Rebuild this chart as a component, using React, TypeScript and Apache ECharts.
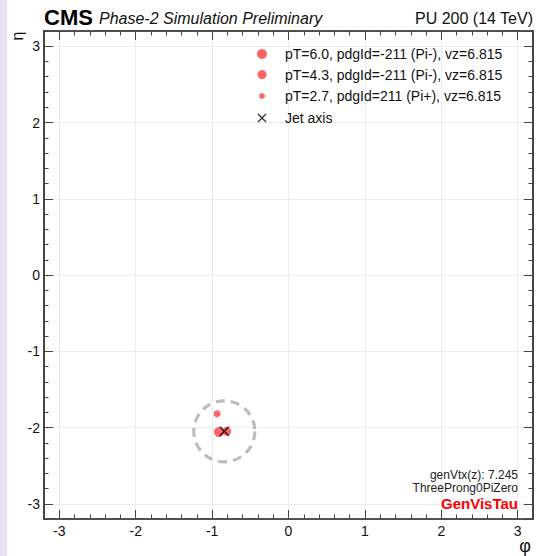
import React, { useEffect, useRef } from "react";
import * as echarts from "echarts";

// ---- data ----
const particleNames = [
  "pT=6.0, pdgId=-211 (Pi-), vz=6.815",
  "pT=4.3, pdgId=-211 (Pi-), vz=6.815",
  "pT=2.7, pdgId=211 (Pi+), vz=6.815",
];
const particlePhi = [-0.91, -0.81, -0.935];
const particleEta = [-2.06, -2.05, -1.82];
const particleSizes = [10, 9, 7];
const legendIconSizes = [10, 9, 6];
const jetAxisName = "Jet axis";
const jetAxisPhi = -0.84;
const jetAxisEta = -2.05;
const coneRadius = 0.4;
const axisMin = -3.2;
const axisMax = 3.2;
const infoLines = ["genVtx(z): 7.245", "ThreeProng0PiZero", "GenVisTau"];

const FONT = "'Liberation Sans', Arial, Helvetica, sans-serif";
const RED = "rgba(250,20,20,0.82)";
const CROSS =
  "path://M1,0L5,4L9,0L10,1L6,5L10,9L9,10L5,6L1,10L0,9L4,5L0,1Z";

export default function App() {
  const ref = useRef<HTMLDivElement>(null);
  useEffect(() => {
    if (!ref.current) return;
    const chart = echarts.init(ref.current, null, { renderer: "svg" });

    const frame = { show: true, onZero: false, lineStyle: { color: "#1a1a1a", width: 1.6 } };
    const mkMinor = (position: string, withLine: boolean) => ({
      type: "value",
      position,
      min: axisMin,
      max: axisMax,
      interval: 0.2,
      axisLine: withLine ? frame : { show: false, onZero: false },
      axisTick: { show: true, inside: true, length: 4.5, lineStyle: { color: "#444", width: 1 } },
      axisLabel: { show: false },
      splitLine: { show: false },
    });
    const mkMajor = (position: string, labels: boolean, margin: number) => ({
      type: "value",
      position,
      min: axisMin,
      max: axisMax,
      splitNumber: 6,
      axisLine: { show: false, onZero: false },
      axisTick: { show: true, inside: true, length: 9, lineStyle: { color: "#444", width: 1 } },
      axisLabel: {
        show: labels,
        showMinLabel: false,
        showMaxLabel: false,
        margin,
        color: "#111",
        fontSize: 14,
        fontFamily: FONT,
      },
      splitLine: labels ? { show: true, lineStyle: { color: "#ececec", width: 1 } } : { show: false },
    });

    const particleSeries = particleNames.map((name, i) => ({
      type: "scatter",
      name,
      xAxisIndex: 0,
      yAxisIndex: 0,
      symbol: "circle",
      symbolSize: particleSizes[i],
      itemStyle: { color: RED },
      data: [[particlePhi[i], particleEta[i]]],
      z: 3,
    }));

    const rowY = [54, 74.5, 96, 118];
    const mkLegend = (name: string, size: number, y: number) => ({
      data: [name],
      left: 262 - size / 2,
      top: y - 8,
      padding: 0,
      itemWidth: size,
      itemHeight: size,
      selectedMode: false,
      formatter: "{t|{name}}",
      textStyle: {
        fontSize: 14,
        fontFamily: FONT,
        color: "#111",
        lineHeight: 16,
        rich: {
          t: {
            fontSize: 14,
            fontFamily: FONT,
            color: "#111",
            lineHeight: 16,
            padding: [0, 0, 0, 285 - (262 + size / 2 + 5)],
          },
        },
      },
    });
    const legends = [
      ...particleNames.map((name, i) => mkLegend(name, legendIconSizes[i], rowY[i])),
      mkLegend(jetAxisName, 9, rowY[3]),
    ];

    const txt = (x: number, y: number, text: string, font: string, fill: string, align: string, lh?: number) => ({
      type: "text",
      x,
      y,
      z: 100,
      style: lh
        ? { text, font, fill, verticalAlign: "middle", align, lineHeight: lh }
        : { text, font, fill, verticalAlign: "middle", align },
    });

    chart.setOption({
      animation: false,
      backgroundColor: "#ffffff",
      grid: { left: 44, right: 4, top: 31, bottom: 37 },
      xAxis: [
        mkMajor("bottom", true, 5),
        mkMinor("bottom", true),
        mkMajor("top", false, 5),
        mkMinor("top", true),
      ],
      yAxis: [
        mkMajor("left", true, 4),
        mkMinor("left", true),
        mkMajor("right", false, 4),
        mkMinor("right", true),
      ],
      legend: legends,
      series: [
        {
          type: "custom",
          name: "cone",
          xAxisIndex: 0,
          yAxisIndex: 0,
          data: [[jetAxisPhi, jetAxisEta, coneRadius]],
          renderItem: (params: any, api: any) => {
            const c = api.coord([api.value(0), api.value(1)]);
            const s = api.size([api.value(2), api.value(2)]);
            return {
              type: "circle",
              shape: { cx: c[0], cy: c[1], r: (s[0] + s[1]) / 2 },
              style: { fill: "none", stroke: "#bdbdbd", lineWidth: 3.2, lineDash: [9, 6] },
            };
          },
          z: 2,
          silent: true,
        },
        ...particleSeries,
        {
          type: "scatter",
          name: jetAxisName,
          xAxisIndex: 0,
          yAxisIndex: 0,
          symbol: CROSS,
          symbolSize: 10,
          itemStyle: { color: "#000" },
          data: [[jetAxisPhi, jetAxisEta]],
          z: 4,
        },
      ],
      graphic: [
        { type: "rect", left: 0, top: 0, z: 100, shape: { width: 7, height: 556 }, style: { fill: "#e9dff0" }, silent: true },
        txt(44, 17.5, "CMS", `bold 22px ${FONT}`, "#000", "left"),
        txt(99, 18.5, "Phase-2 Simulation Preliminary", `italic 16px ${FONT}`, "#111", "left"),
        txt(533, 18.5, "PU 200 (14 TeV)", `16px ${FONT}`, "#111", "right"),
        {
          type: "text",
          x: 17,
          y: 36,
          z: 100,
          rotation: Math.PI / 2,
          style: { text: "η", font: `16px ${FONT}`, fill: "#111", verticalAlign: "middle", align: "center" },
        },
        txt(525, 546, "φ", `18px ${FONT}`, "#111", "center"),
        txt(518, 474.5, infoLines[0], `12px ${FONT}`, "#222", "right", 12),
        txt(518, 488, infoLines[1], `12px ${FONT}`, "#222", "right", 12),
        txt(518, 503, infoLines[2], `bold 15px ${FONT}`, "#ff0000", "right", 14),
      ],
    });
    return () => chart.dispose();
  }, []);
  return (
    <div
      ref={ref}
      style={{ position: "absolute", left: 0, top: 0, width: 537, height: 556, background: "#fff" }}
    />
  );
}
